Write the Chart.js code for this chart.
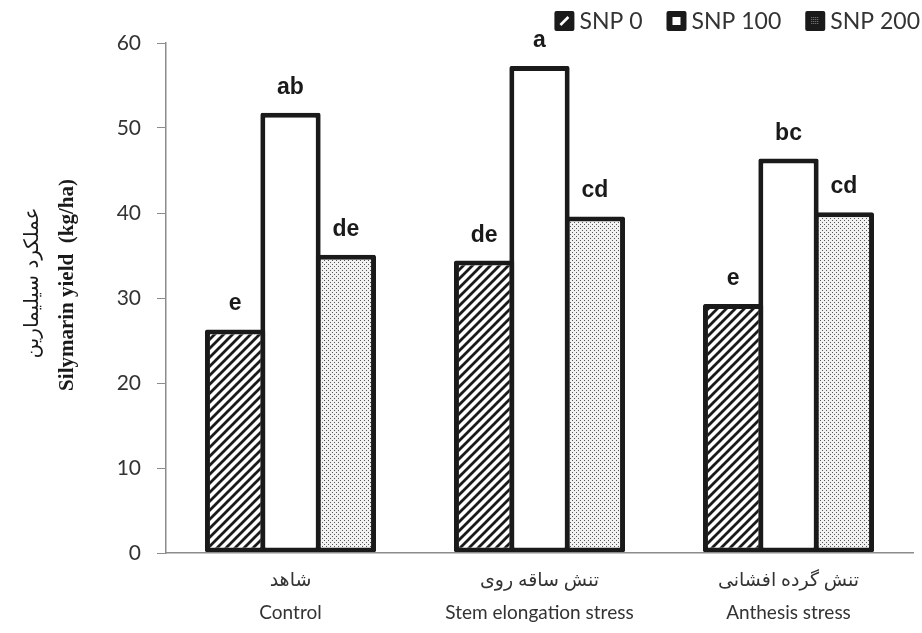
<!DOCTYPE html>
<html>
<head>
<meta charset="utf-8">
<script src="https://cdn.jsdelivr.net/npm/chart.js@4.4.1/dist/chart.umd.min.js"></script>
<style>
  html, body { margin: 0; padding: 0; background: #fff; }
  #wrap { width: 922px; height: 633px; position: relative; }
</style>
</head>
<body>
<div id="wrap"><canvas id="yield_chart"></canvas></div>
<script>
// DATA
const categories_fa = ['شاهد', 'تنش ساقه روی', 'تنش گرده افشانی'];
const categories_en = ['Control', 'Stem elongation stress', 'Anthesis stress'];
const series_names = ['SNP 0', 'SNP 100', 'SNP 200'];
const snp0 = [26.3, 34.4, 29.3];
const snp100 = [51.8, 57.3, 46.4];
const snp200 = [35.1, 39.6, 40.1];
const letters_snp0 = ['e', 'de', 'e'];
const letters_snp100 = ['ab', 'a', 'bc'];
const letters_snp200 = ['de', 'cd', 'cd'];
const y_ticks = [0, 10, 20, 30, 40, 50, 60];

const FONT = "Lato, 'DejaVu Sans', sans-serif";
const TEXT = '#333';
const INK = '#1a1a1a';

// PATTERNS
function hatchPattern() {
  const c = document.createElement('canvas');
  c.width = 9; c.height = 9;
  const g = c.getContext('2d');
  g.fillStyle = '#fff';
  g.fillRect(0, 0, 9, 9);
  g.strokeStyle = INK;
  g.lineWidth = 2.8;
  g.beginPath();
  g.moveTo(-2, 11); g.lineTo(11, -2);
  g.moveTo(-2, 2); g.lineTo(2, -2);
  g.moveTo(7, 11); g.lineTo(11, 7);
  g.stroke();
  return g.createPattern(c, 'repeat');
}

function dotPattern() {
  const c = document.createElement('canvas');
  c.width = 4; c.height = 4;
  const g = c.getContext('2d');
  g.fillStyle = '#f2f2f2';
  g.fillRect(0, 0, 4, 4);
  g.fillStyle = '#555';
  g.fillRect(0, 0, 1, 1);
  g.fillRect(2, 2, 1, 1);
  return g.createPattern(c, 'repeat');
}

const fills = [hatchPattern(), '#fff', dotPattern()];
const all_letters = [letters_snp0, letters_snp100, letters_snp200];

// letters above the bars
const letterPlugin = {
  id: 'letters',
  afterDatasetsDraw(chart) {
    const ctx = chart.ctx;
    ctx.save();
    ctx.font = "bold 23px 'Liberation Sans', Arial, sans-serif";
    ctx.fillStyle = INK;
    ctx.textAlign = 'center';
    ctx.textBaseline = 'alphabetic';
    chart.data.datasets.forEach((ds, i) => {
      chart.getDatasetMeta(i).data.forEach((bar, j) => {
        ctx.fillText(all_letters[i][j], bar.x, bar.y - 19);
      });
    });
    ctx.restore();
  }
};

// two line y title (persian + english)
const yTitlePlugin = {
  id: 'ytitle',
  afterDraw(chart) {
    const ctx = chart.ctx;
    ctx.save();
    ctx.fillStyle = INK;
    ctx.textAlign = 'center';
    ctx.textBaseline = 'middle';
    ctx.translate(33, 283);
    ctx.rotate(-Math.PI / 2);
    ctx.font = "20px 'DejaVu Sans', sans-serif";
    ctx.fillText('عملکرد سیلیمارین', 0, 0);
    ctx.restore();

    ctx.save();
    ctx.fillStyle = INK;
    ctx.textAlign = 'center';
    ctx.textBaseline = 'middle';
    ctx.translate(68, 285);
    ctx.rotate(-Math.PI / 2);
    ctx.font = "bold 21px 'Liberation Serif', serif";
    ctx.fillText('Silymarin yield  (kg/ha)', 0, 0);
    ctx.restore();
  }
};

// legend at top right (boxes with a small mark inside)
const legendPlugin = {
  id: 'snplegend',
  afterDraw(chart) {
    const ctx = chart.ctx;
    const box = 20, gapText = 5, gapItem = 24, right = 920, cy = 21;
    ctx.save();
    ctx.font = '23px ' + FONT;
    ctx.textBaseline = 'middle';
    const widths = series_names.map(n => ctx.measureText(n).width);
    let total = 0;
    widths.forEach((w, i) => { total += box + gapText + w + (i < widths.length - 1 ? gapItem : 0); });
    let x = right - total;
    series_names.forEach((name, i) => {
      const y0 = cy - box / 2;
      ctx.fillStyle = INK;
      ctx.beginPath();
      ctx.roundRect(x, y0, box, box, 2);
      ctx.fill();
      if (i === 0) {
        ctx.strokeStyle = '#fff';
        ctx.lineWidth = 2.5;
        ctx.beginPath();
        ctx.moveTo(x + 6, y0 + 14); ctx.lineTo(x + 14, y0 + 6);
        ctx.stroke();
      } else if (i === 1) {
        ctx.fillStyle = '#fff';
        ctx.fillRect(x + 6, y0 + 6, 8, 8);
      } else {
        ctx.fillStyle = '#888';
        for (let a = 6; a < 14; a += 2) {
          for (let b = 6; b < 14; b += 2) ctx.fillRect(x + a, y0 + b, 1, 1);
        }
      }
      ctx.fillStyle = TEXT;
      ctx.fillText(name, x + box + gapText, cy + 1);
      x += box + gapText + widths[i] + gapItem;
    });
    ctx.restore();
  }
};

const ctx = document.getElementById('yield_chart').getContext('2d');

const my_chart = new Chart(ctx, {
  type: 'bar',
  data: {
    labels: categories_en.map((en, i) => [categories_fa[i], en]),
    datasets: [snp0, snp100, snp200].map((vals, i) => ({
      label: series_names[i],
      data: vals,
      backgroundColor: fills[i],
      borderColor: INK,
      borderWidth: 5,
      borderSkipped: false,
      borderRadius: 2,
      categoryPercentage: 0.667,
      barPercentage: 1.09,
    })),
  },
  options: {
    responsive: true,
    maintainAspectRatio: false,
    animation: false,
    layout: { padding: { top: 43, right: 9, bottom: 0, left: 0 } },
    plugins: {
      legend: { display: false },
      tooltip: { enabled: false },
    },
    scales: {
      x: {
        grid: { display: false },
        border: { color: '#8c8c8c', width: 1.5, z: 1 },
        afterFit(scale) {
          scale.height = 80;
        },
        ticks: {
          color: TEXT,
          padding: 3,
          font: { family: FONT, size: 19, lineHeight: 1.7 },
          maxRotation: 0,
          autoSkip: false,
        },
      },
      y: {
        min: 0,
        max: 60,
        afterBuildTicks(scale) {
          scale.ticks = y_ticks.map(v => ({ value: v }));
        },
        afterFit(scale) {
          scale.width = 166;
        },
        grid: { drawOnChartArea: false, drawTicks: true, tickLength: 9, color: '#8c8c8c' },
        border: { color: '#8c8c8c', width: 1.5 },
        ticks: {
          color: TEXT,
          padding: 16,
          font: { family: FONT, size: 21 },
        },
      },
    },
  },
  plugins: [letterPlugin, yTitlePlugin, legendPlugin],
});
</script>
</body>
</html>
